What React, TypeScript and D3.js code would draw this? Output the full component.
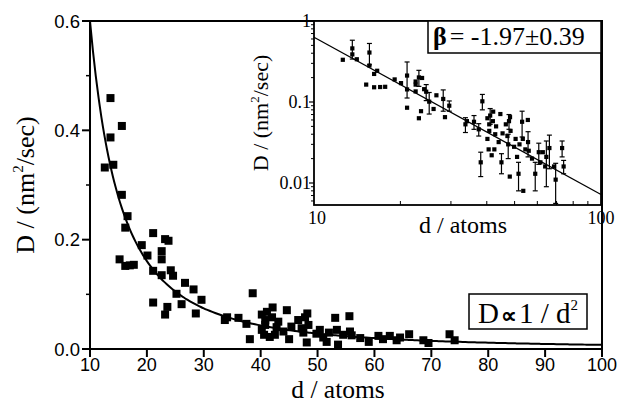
import React from "react";
import * as d3 from "d3";

// ---- data ----
const sizeAtoms = [
  12.6, 13.6, 13.6, 14.1, 15.6, 15.6, 16.6, 16.2, 15.2, 16.2, 17.0, 17.7, 19.1, 20.1, 21.1, 22.6, 22.6, 23.2, 23.8,
  21.1, 22.6, 24.2, 24.6, 26.7, 28.2, 25.2, 29.6, 21.1, 23.6, 23.2, 26.1, 28.6, 33.7, 34.1, 36.1, 37.5, 38.6, 38.1,
  40.2, 41.1, 40.6, 40.8, 42.1, 44.6, 48.2, 53.1, 55.6, 40.8, 43.1, 40.2, 41.6, 42.5, 45.0, 45.4, 46.6, 47.2, 48.4,
  48.1, 50.4, 51.0, 53.4, 53.6, 54.5, 55.7, 57.5, 59.0, 60.7, 62.7, 63.9, 64.5, 66.1, 68.6, 69.5, 73.2, 74.1, 42.0,
  47.5, 52.0, 47.8, 51.6, 42.8, 49.8, 56.0, 61.5, 44.0,
];
const diffusion = [
  0.332, 0.459, 0.387, 0.337, 0.408, 0.282, 0.243, 0.222, 0.164, 0.152, 0.153, 0.154, 0.19, 0.171, 0.212, 0.179, 0.164,
  0.201, 0.198, 0.143, 0.135, 0.144, 0.134, 0.121, 0.109, 0.101, 0.09, 0.085, 0.077, 0.063, 0.082, 0.065, 0.053, 0.058,
  0.057, 0.046, 0.102, 0.018, 0.063, 0.068, 0.026, 0.044, 0.076, 0.071, 0.065, 0.057, 0.06, 0.053, 0.05, 0.035, 0.022,
  0.026, 0.018, 0.041, 0.053, 0.038, 0.044, 0.012, 0.035, 0.021, 0.035, 0.008, 0.026, 0.032, 0.02, 0.013, 0.024, 0.024,
  0.016, 0.021, 0.027, 0.016, 0.011, 0.027, 0.016, 0.058, 0.03, 0.03, 0.058, 0.013, 0.04, 0.028, 0.025, 0.018, 0.032,
];
const diffusionErr = [
  0, 0.12, 0, 0, 0.12, 0, 0, 0, 0, 0, 0, 0, 0, 0, 0.1, 0, 0, 0.045, 0, 0, 0, 0, 0.03, 0, 0.032, 0.03, 0.013, 0, 0, 0, 0,
  0, 0.011, 0, 0.011, 0.008, 0.022, 0.006, 0, 0.015, 0, 0, 0, 0, 0, 0.02, 0, 0, 0, 0, 0, 0, 0.005, 0, 0, 0, 0, 0, 0, 0,
  0, 0, 0, 0.011, 0, 0.005, 0.007, 0, 0, 0.012, 0.012, 0, 0.0065, 0.006, 0.003, 0, 0.01, 0, 0.012, 0.005, 0, 0, 0, 0, 0,
];

const mainXTicks = [10, 20, 30, 40, 50, 60, 70, 80, 90, 100];
const mainYTicks = [0, 0.2, 0.4, 0.6];
const mainYMinor = [0.1, 0.3, 0.5];
const insetXTicks = [10, 100];
const insetXMinor = [20, 30, 40, 50, 60, 70, 80, 90];
const insetYTicks = [1, 0.1, 0.01];
const insetYTickLabels = ["1", "0.1", "0.01"];
const insetYMinor = [0.006, 0.007, 0.008, 0.009, 0.02, 0.03, 0.04, 0.05, 0.06, 0.07, 0.08, 0.09, 0.2, 0.3, 0.4, 0.5, 0.6, 0.7, 0.8, 0.9];

// fitted model curves
const mainFitAmp = 0.6; // D at d = 10
const mainFitExp = -1.9;
const insetFitD = [10, 100];
const insetFitV = [0.63, 0.0072];
const betaText = "= -1.97\u00B10.39";

const SERIF = "'Liberation Serif', 'Times New Roman', Times, serif";
const SANS = "'Liberation Sans', Arial, Helvetica, sans-serif";

export default function App() {
  const W = 621;
  const H = 404;
  const x = d3.scaleLinear().domain([10, 100]).range([90, 602]);
  const y = d3.scaleLinear().domain([0, 0.6]).range([349, 21]);
  const xi = d3.scaleLog().domain([10, 100]).range([314, 601]);
  const yi = d3.scaleLog().domain([0.00535, 1]).range([205, 21]);

  const fitPts = d3.range(10, 100.01, 0.5).map((d) => [d, mainFitAmp * Math.pow(d / 10, mainFitExp)] as [number, number]);
  const fitLine = d3
    .line<[number, number]>()
    .x((p) => x(p[0]))
    .y((p) => y(p[1]))
    .curve(d3.curveMonotoneX)(fitPts);
  const insetLine = d3
    .line<number>()
    .x((d) => xi(d))
    .y((_, i) => yi(insetFitV[i]))(insetFitD);

  const ms = 8; // main marker
  const mi = 4.2; // inset marker

  return (
    <svg width={W} height={H} viewBox={`0 0 ${W} ${H}`} style={{ position: "absolute", left: 0, top: 0, background: "#fff" }}>
      <rect x={0} y={0} width={W} height={H} fill="#fff" />
      {/* main frame */}
      <rect x={90} y={21} width={512} height={328} fill="none" stroke="#000" strokeWidth={2} />
      {/* main x ticks */}
      {mainXTicks.map((t) => (
        <g key={"mx" + t}>
          <line x1={x(t)} x2={x(t)} y1={349} y2={357} stroke="#000" strokeWidth={2} />
          <text x={x(t)} y={370.5} textAnchor="middle" fontFamily={SANS} fontSize={18} fill="#000">
            {t}
          </text>
        </g>
      ))}
      {mainYTicks.map((t) => (
        <g key={"my" + t}>
          <line x1={82} x2={90} y1={y(t)} y2={y(t)} stroke="#000" strokeWidth={2} />
          <text x={80} y={y(t)} dy="0.36em" textAnchor="end" fontFamily={SANS} fontSize={18.5} fill="#000">
            {t.toFixed(1)}
          </text>
        </g>
      ))}
      {mainYMinor.map((t) => (
        <line key={"mym" + t} x1={86} x2={90} y1={y(t)} y2={y(t)} stroke="#000" strokeWidth={1.5} />
      ))}
      {/* main axis titles */}
      <text x={338} y={398} textAnchor="middle" fontFamily={SERIF} fontSize={25.5} fill="#000">
        d / atoms
      </text>
      <text transform="translate(34,185) rotate(-90)" textAnchor="middle" fontFamily={SERIF} fontSize={26} fill="#000">
        D / (nm
        <tspan fontSize={15} dy={-11}>
          2
        </tspan>
        <tspan dy={11}>/sec)</tspan>
      </text>
      {/* fit curve */}
      <path d={fitLine || ""} fill="none" stroke="#000" strokeWidth={2} />
      {/* main points */}
      {sizeAtoms.map((d, i) => (
        <rect key={"mp" + i} x={x(d) - ms / 2} y={y(diffusion[i]) - ms / 2} width={ms} height={ms} fill="#000" />
      ))}
      {/* legend box */}
      <rect x={469} y={294} width={118} height={35} fill="#fff" stroke="#000" strokeWidth={1.5} />
      <text x={528} y={323} textAnchor="middle" fontFamily={SERIF} fontSize={29} fill="#000">
        D<tspan fontSize={22} fontWeight="bold" dx={2}>{"\u221D"}</tspan>
        <tspan dx={2}>1 / d</tspan>
        <tspan fontSize={15} dy={-13}>
          2
        </tspan>
      </text>

      {/* inset */}
      <rect x={314} y={21} width={287} height={184} fill="#fff" stroke="#000" strokeWidth={1.8} />
      {insetXMinor.map((t) => (
        <line key={"ixm" + t} x1={xi(t)} x2={xi(t)} y1={205} y2={201} stroke="#000" strokeWidth={1} />
      ))}
      {insetXTicks.map((t) => (
        <text key={"ix" + t} x={xi(t) + (t === 10 ? 3 : 0)} y={224} textAnchor="middle" fontFamily={SERIF} fontSize={18} fill="#000">
          {t}
        </text>
      ))}
      {insetYTicks.map((t, i) => (
        <g key={"iy" + t}>
          <line x1={309} x2={314} y1={yi(t)} y2={yi(t)} stroke="#000" strokeWidth={1.2} />
          <text x={311} y={yi(t)} dy="0.35em" textAnchor="end" fontFamily={SERIF} fontSize={18} fill="#000">
            {insetYTickLabels[i]}
          </text>
        </g>
      ))}
      {insetYMinor.map((t) => (
        <line key={"iym" + t} x1={311} x2={314} y1={yi(t)} y2={yi(t)} stroke="#000" strokeWidth={1} />
      ))}
      <text x={463} y={233} textAnchor="middle" fontFamily={SERIF} fontSize={24} fill="#000">
        d / atoms
      </text>
      <text transform="translate(268,113) rotate(-90)" textAnchor="middle" fontFamily={SERIF} fontSize={22} fill="#000">
        D / (nm
        <tspan fontSize={13} dy={-9}>
          2
        </tspan>
        <tspan dy={9}>/sec)</tspan>
      </text>
      <path d={insetLine || ""} fill="none" stroke="#000" strokeWidth={1.3} />
      {sizeAtoms.map((d, i) => {
        const e = diffusionErr[i];
        if (!e) return null;
        const cx = xi(d);
        const lo = Math.max(diffusion[i] - e, 0.0056);
        const hi = diffusion[i] + e;
        return (
          <g key={"ie" + i} stroke="#000" strokeWidth={1.2}>
            <line x1={cx} x2={cx} y1={yi(lo)} y2={yi(hi)} />
            <line x1={cx - 2.5} x2={cx + 2.5} y1={yi(lo)} y2={yi(lo)} />
            <line x1={cx - 2.5} x2={cx + 2.5} y1={yi(hi)} y2={yi(hi)} />
          </g>
        );
      })}
      {sizeAtoms.map((d, i) => (
        <rect key={"ip" + i} x={xi(d) - mi / 2} y={yi(diffusion[i]) - mi / 2} width={mi} height={mi} fill="#000" />
      ))}
      {/* beta box */}
      <rect x={428} y={21} width={173} height={32} fill="#fff" stroke="#000" strokeWidth={1.5} />
      <text x={433} y={45} fontFamily={SERIF} fontSize={26} fill="#000">
        <tspan fontWeight="bold">{"\u03B2"}</tspan>
        <tspan dx={3}>{betaText}</tspan>
      </text>
    </svg>
  );
}
